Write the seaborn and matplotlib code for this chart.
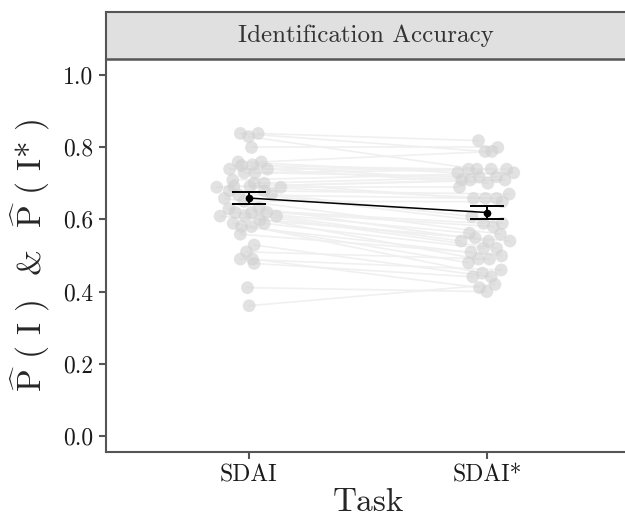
import numpy as np
import pandas as pd
import matplotlib
matplotlib.use("Agg")
import matplotlib.pyplot as plt
import seaborn as sns

sns.set_style("white")
plt.rcParams['font.family'] = ['cmr10', 'DejaVu Serif']
plt.rcParams['mathtext.fontset'] = 'cm'
plt.rcParams['axes.formatter.use_mathtext'] = True

tasks = ["SDAI", "SDAI*"]
strip_title = "Identification Accuracy"
y_ticks = [0.0, 0.2, 0.4, 0.6, 0.8, 1.0]

# per-subject accuracy, SDAI
acc_sdai = [0.838, 0.838, 0.829, 0.799, 0.759, 0.759, 0.751, 0.749, 0.739, 0.739,
            0.729, 0.729, 0.709, 0.700, 0.700, 0.691, 0.691, 0.689, 0.689, 0.679,
            0.679, 0.670, 0.668, 0.658, 0.650, 0.631, 0.629, 0.620, 0.619, 0.619,
            0.609, 0.609, 0.609, 0.598, 0.589, 0.589, 0.580, 0.580, 0.559, 0.529,
            0.510, 0.490, 0.490, 0.478, 0.411, 0.361]
# per-subject accuracy, SDAI* (same subject order)
acc_sdai_star = [0.788, 0.818, 0.739, 0.799, 0.729, 0.788, 0.709, 0.739, 0.739, 0.700,
                 0.739, 0.718, 0.729, 0.658, 0.718, 0.709, 0.658, 0.709, 0.689, 0.589,
                 0.670, 0.608, 0.658, 0.559, 0.649, 0.540, 0.589, 0.580, 0.520, 0.562,
                 0.549, 0.490, 0.540, 0.540, 0.480, 0.520, 0.499, 0.451, 0.509, 0.441,
                 0.490, 0.460, 0.411, 0.441, 0.400, 0.420]
# horizontal jitter
jit_sdai = [-0.036, 0.039, -0.001, 0.011, -0.045, 0.052, 0.015, -0.031, -0.081, 0.078,
            -0.020, 0.026, -0.068, 0.064, 0.022, -0.063, 0.004, -0.135, 0.134, -0.082,
            0.064, 0.095, -0.043, -0.103, -0.020, 0.043, -0.084, 0.075, -0.057, 0.011,
            -0.121, -0.017, 0.116, 0.046, -0.066, 0.064, -0.031, 0.011, -0.036, 0.022,
            -0.010, -0.036, 0.015, 0.022, -0.006, 0.001]
jit_sdai_star = [-0.008, -0.036, -0.043, 0.045, -0.123, 0.020, -0.106, -0.078, 0.017, 0.003,
                 0.082, -0.033, 0.112, -0.057, 0.040, 0.075, 0.040, -0.071, -0.116, 0.064,
                 0.093, -0.064, -0.007, 0.056, 0.064, 0.006, -0.015, 0.026, 0.040, -0.074,
                 -0.050, -0.036, -0.109, 0.096, -0.078, -0.015, 0.061, -0.020, -0.068, 0.017,
                 0.010, 0.059, -0.032, -0.060, -0.001, 0.033]
# summary (mean and error half-width)
mean_acc = [0.659, 0.619]
err_acc = [0.017, 0.017]

n = len(acc_sdai)
df = pd.DataFrame({
    "subject": list(range(n)) * 2,
    "task": [tasks[0]] * n + [tasks[1]] * n,
    "acc": acc_sdai + acc_sdai_star,
    "x": [1 + j for j in jit_sdai] + [2 + j for j in jit_sdai_star],
})

W, H = 625, 521
fig = plt.figure(figsize=(W / 100, H / 100), dpi=100)
ax = fig.add_axes([106 / W, (H - 452) / H, (630 - 106) / W, (452 - 59) / H])
sax = fig.add_axes([106 / W, (H - 59) / H, (630 - 106) / W, (59 - 12) / H])

sns.lineplot(data=df, x="x", y="acc", units="subject", estimator=None,
             color="#f0f0f0", lw=1.2, ax=ax, legend=False, sort=False)
sns.scatterplot(data=df, x="x", y="acc", color="#d0d0d0", alpha=0.6, s=85,
                edgecolor="none", ax=ax, legend=False, zorder=3)

ax.plot([1, 2], mean_acc, color="black", lw=1.1, zorder=5)
ax.errorbar([1, 2], mean_acc, yerr=err_acc, fmt="o", color="black", ms=4.5,
            capsize=12, elinewidth=1.4, capthick=1.4, zorder=6)

ax.set_xlim(0.4, 2.6)
ax.set_ylim(-0.044, 1.044)
ax.set_xticks([1, 2])
ax.set_xticklabels(tasks)
ax.set_yticks(y_ticks)
ax.set_yticklabels([f"{v:.1f}" for v in y_ticks])
ax.tick_params(axis="both", which="major", bottom=True, left=True, length=5,
               width=1.5, color="#555555", labelsize=17, labelcolor="#1a1a1a",
               pad=4, direction="out")
for side in ["top", "right"]:
    ax.spines[side].set_visible(False)
for side in ["left", "bottom"]:
    ax.spines[side].set_color("#555555")
    ax.spines[side].set_linewidth(1.5)
ax.set_xlabel("Task", fontsize=24, labelpad=1)
ax.set_ylabel(r"$\widehat{\mathrm{P}}$ ( I )  &  $\widehat{\mathrm{P}}$ ( I* )",
              fontsize=24, labelpad=8)

sax.set_facecolor("#e0e0e0")
sax.set_xticks([]); sax.set_yticks([])
for side in ["left", "top", "right", "bottom"]:
    sax.spines[side].set_color("#555555")
    sax.spines[side].set_linewidth(1.5)
sax.spines["bottom"].set_linewidth(1.8)
sax.text(0.5 * (625 - 106) / (630 - 106), 0.5, strip_title, ha="center", va="center",
         fontsize=18, color="#333333", transform=sax.transAxes)

fig.savefig("out.png", dpi=100)
